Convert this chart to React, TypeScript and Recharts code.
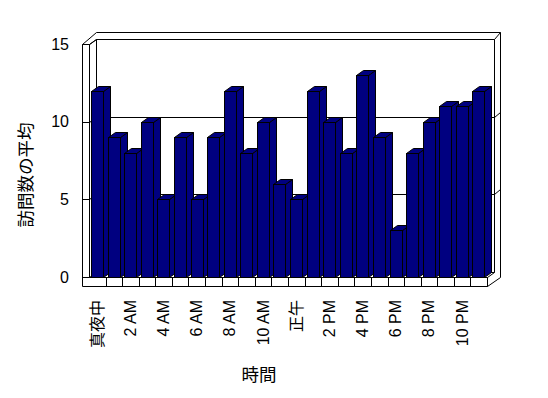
import { BarChart, Bar, XAxis, YAxis, CartesianGrid, Customized } from "recharts";

const hourNames = [
  "真夜中", "1 AM", "2 AM", "3 AM", "4 AM", "5 AM",
  "6 AM", "7 AM", "8 AM", "9 AM", "10 AM", "11 AM",
  "正午", "1 PM", "2 PM", "3 PM", "4 PM", "5 PM",
  "6 PM", "7 PM", "8 PM", "9 PM", "10 PM", "11 PM",
];
const avgVisits = [12, 9, 8, 10, 5, 9, 5, 9, 12, 8, 10, 6, 5, 12, 10, 8, 13, 9, 3, 8, 10, 11, 11, 12];
const yTicks = [0, 5, 10, 15];

const data = hourNames.map((hour, i) => ({ hour, visits: avgVisits[i] }));

// layout
const W = 548;
const H = 398;
const LEFT = 89;
const RIGHT = 487;
const TOP = 44;
const BOTTOM = 277;
const WALL = 7; // front face of left wall
const FLOOR = 9; // front face of floor
const DX = 7; // depth offset
const DY = 5;
const FONT = "'Liberation Sans', 'Noto Sans CJK JP', sans-serif";
const NAVY = "#000080";

const px = (v: number) => Math.round(v) + 0.5;

// 3d column
function Column(props: any) {
  const { x, y, width, height } = props;
  if (!height || height <= 0) return null;
  const l = px(x);
  const r = px(x + width) - 1;
  const t = px(y);
  const b = px(y + height);
  return (
    <g stroke="#000" strokeWidth={1} fill={NAVY}>
      <polygon points={`${r},${t} ${r + DX},${t - DY} ${r + DX},${b - DY} ${r},${b}`} />
      <polygon points={`${l},${t} ${l + DX},${t - DY} ${r + DX},${t - DY} ${r},${t}`} />
      <rect x={l} y={t} width={r - l} height={b - t} />
    </g>
  );
}

// gridline drawn on the back wall
const backGridLine = (p: any) => {
  const y = px(p.y1);
  const x1 = px(p.x1);
  const x2 = px(p.x2);
  return (
    <g key={`grid-${p.index}-${y}`} stroke="#000" strokeWidth={1}>
      <line x1={x1 + DX} y1={y - DY} x2={x2 + DX} y2={y - DY} />
      <line x1={x1} y1={y} x2={x1 + DX} y2={y - DY} />
      {y > TOP + 2 && y < BOTTOM - 2 && (
        <line x1={x2 + DX} y1={y - DY} x2={x2 + DX + 6} y2={y - DY - 5} />
      )}
    </g>
  );
};

function YTick(props: any) {
  const { x, y, payload } = props;
  const ty = px(y);
  return (
    <g>
      <text x={x} y={y} textAnchor="end" dominantBaseline="central" fontSize={16} fontFamily={FONT} fill="#000">
        {payload.value}
      </text>
      <line x1={px(LEFT - WALL)} y1={ty} x2={px(LEFT)} y2={ty} stroke="#000" />
    </g>
  );
}

function XTick(props: any) {
  const { x, payload, index } = props;
  const band = (RIGHT - LEFT) / hourNames.length;
  const div = px(x + band / 2);
  return (
    <g>
      <line x1={div} y1={BOTTOM + 0.5} x2={div} y2={BOTTOM + FLOOR + 0.5} stroke="#000" />
      {index % 2 === 0 && (
        <text
          transform={`translate(${x},${BOTTOM + 23}) rotate(-90)`}
          textAnchor="end"
          dominantBaseline="central"
          fontSize={16}
          fontFamily={FONT}
          fill="#000"
        >
          {payload.value}
        </text>
      )}
    </g>
  );
}

// walls, floor and axis titles
function Frame() {
  const oL = px(LEFT - WALL);
  const iL = px(LEFT);
  const bL = px(LEFT + DX);
  const fT = px(TOP);
  const bT = px(TOP - DY);
  const oT = px(TOP - 12);
  const fR = px(RIGHT);
  const bR = px(RIGHT + DX);
  const oR = px(RIGHT + DX + 6);
  const fB = px(BOTTOM);
  const bB = px(BOTTOM - DY);
  const flB = px(BOTTOM + FLOOR);
  const d = [
    `M${oL} ${fT} V${flB} H${fR} V${fB}`,
    `M${iL} ${fT} V${fB} H${fR}`,
    `M${oL} ${fT} H${iL}`,
    `M${oL} ${fT} L${bL} ${oT} H${oR} V${fB} L${fR} ${flB}`,
    `M${iL} ${fT} L${bL} ${bT} H${bR} V${bB} L${fR} ${fB}`,
    `M${bL} ${bT} V${bB}`,
    `M${bR} ${bT} L${oR} ${oT}`,
  ].join(" ");
  return (
    <g>
      <path d={d} fill="none" stroke="#000" strokeWidth={1} />
      <text x={259} y={375} textAnchor="middle" dominantBaseline="central" fontSize={17.5} fontFamily={FONT} fill="#000">
        時間
      </text>
      <text
        transform="translate(26,175) rotate(-90)"
        textAnchor="middle"
        dominantBaseline="central"
        fontSize={17.5}
        fontFamily={FONT}
        fill="#000"
      >
        訪問数の平均
      </text>
    </g>
  );
}

export default function App() {
  return (
    <div style={{ position: "absolute", left: 0, top: 0, width: W, height: H, background: "#fff" }}>
      <BarChart
        width={W}
        height={H}
        data={data}
        margin={{ top: TOP, right: W - RIGHT, bottom: 0, left: 0 }}
      >
        <CartesianGrid vertical={false} horizontal={backGridLine} />
        <Customized component={<Frame />} />
        <XAxis
          dataKey="hour"
          interval={0}
          height={H - BOTTOM}
          axisLine={false}
          tickLine={false}
          tickSize={0}
          tickMargin={0}
          tick={<XTick />}
        />
        <YAxis
          domain={[0, 15]}
          ticks={yTicks}
          interval={0}
          width={LEFT}
          axisLine={false}
          tickLine={false}
          tickSize={0}
          tickMargin={20}
          tick={<YTick />}
        />
        <Bar dataKey="visits" barSize={13} shape={<Column />} isAnimationActive={false} />
      </BarChart>
    </div>
  );
}
